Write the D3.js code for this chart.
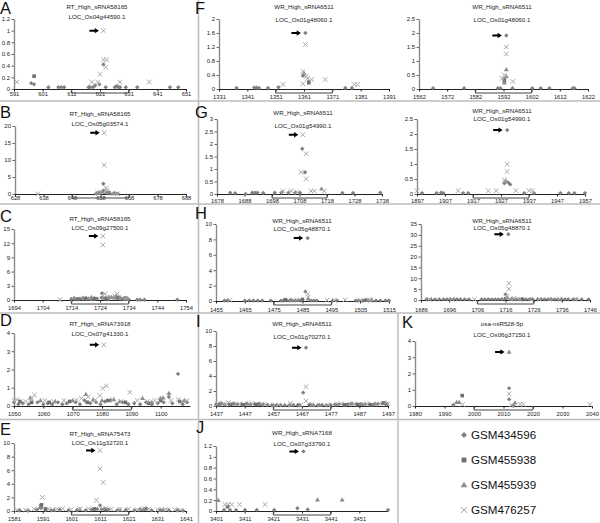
<!DOCTYPE html>
<html><head><meta charset="utf-8">
<script src="https://cdn.jsdelivr.net/npm/d3@7"></script>
<style>body{margin:0;background:#fff} svg{display:block;font-family:"Liberation Sans",Arial,sans-serif}</style>
</head><body><svg id="c" width="600" height="523"></svg>
<script>
// ---------- series names ----------
const seriesNames = ["GSM434596","GSM455938","GSM455939","GSM476257"];

// ---------- data: [position, value] per series (d=GSM434596, s=GSM455938, t=GSM455939, x=GSM476257) ----------
const A_d = [[597,0.1],[598,0.08],[603,0.03],[606.5,0.03],[607.5,0.03],[608.5,0.03],[617,0.03],[617.5,0.03],[618.5,0.03],[619.3,0.06],[620.8,0.08],[622.2,0.42],[623,0.03],[626.2,0.03],[626.8,0.05],[627.4,0.03],[628,0.03],[630,0.03],[634,0.03],[645.4,0.03],[648.3,0.03]];
const A_s = [[598,0.22]];
const A_t = [];
const A_x = [[592,0.12],[618.1,0.12],[620.2,0.12],[621,0.25],[622.2,1.0],[622.2,0.5],[623.3,0.5],[623,0.37],[628,0.12],[638.2,0.12]];

const B_d = [[656.5,0.1],[658,0.3],[659,3.0],[659,1.0],[660.5,0.2],[662.5,0.1],[664,0.1]];
const B_s = [[657.5,0.3],[661,0.4]];
const B_t = [[658.5,0.6],[660,0.5],[663,0.2]];
const B_x = [[636,0.05],[659.3,18],[659.3,8.5],[660,1.7],[660.3,1.0],[657,0.4],[658,0.6],[662,0.2],[664,0.1]];

const C_d = [[1714,0.2],[1715,0.3],[1716,0.1],[1717,0.3],[1718,0.2],[1719,0.4],[1720,0.3],[1721,0.2],[1722,0.4],[1723,0.3],[1724.7,1.4],[1724.5,0.5],[1725.5,0.3],[1726,0.4],[1727,0.2],[1728,0.6],[1729.5,0.8],[1730,0.4],[1731,0.2],[1732,0.3],[1733,0.2],[1734,0.1],[1737,0.05],[1738,0.05],[1739.5,0.05],[1751,0.05]];
const C_s = [[1716,0.2],[1719,0.3],[1722,0.2],[1726,0.3],[1730,0.5],[1733,0.4]];
const C_t = [[1715,0.4],[1718,0.5],[1721,0.6],[1725,0.5],[1727,0.6],[1729,0.5],[1731,0.6],[1733,0.3]];
const C_x = [[1710,0.05],[1725,13.5],[1725,11.6],[1725.8,1.3],[1729.2,0.9],[1730,1.3],[1728,0.5],[1720,0.3],[1733,0.3]];

const D_d = [[1050,0.2],[1051.5,0.1],[1053,0.15],[1055,0.1],[1058,0.2],[1060,0.1],[1061.5,0.15],[1063,0.1],[1065,0.2],[1066.5,0.1],[1068,0.15],[1071,0.2],[1072.5,0.1],[1074,0.3],[1076,0.15],[1078,0.2],[1079.5,0.1],[1081,0.25],[1083,0.3],[1085,0.1],[1087,0.2],[1089,0.1],[1091,0.15],[1093,0.1],[1095,0.2],[1097,0.1],[1099,0.15],[1101,0.2],[1102.8,0.5],[1104,0.15],[1105.9,1.76],[1107.5,0.1],[1109,0.2]];
const D_s = [[1052,0.25],[1056,0.2],[1062,0.2],[1069,0.25],[1075,0.2],[1082,0.3],[1088,0.2],[1096,0.15],[1100,0.3],[1106.5,0.25]];
const D_t = [[1055.6,0.45],[1059,0.3],[1064,0.25],[1070,0.3],[1074.5,0.64],[1077,0.35],[1080,0.3],[1084,0.35],[1086,0.25],[1093.8,0.42],[1097,0.2],[1099.9,0.42],[1100.8,0.45],[1102.8,0.7],[1108,0.3]];
const D_x = [[1050,0.3],[1051,0.35],[1054,0.25],[1056,0.42],[1057,0.6],[1060.5,0.3],[1063.5,0.25],[1067,0.3],[1071.3,0.33],[1073,0.42],[1075.3,0.5],[1077.5,0.3],[1079.3,0.57],[1080.2,0.97],[1080.6,3.35],[1081.5,1.1],[1083.5,0.35],[1086.5,0.25],[1089.5,0.75],[1092,0.3],[1095.5,0.25],[1098,0.3],[1103.5,0.3],[1106,0.35],[1109,0.3]];

const E_d = [[1583,0.1],[1586,0.05],[1589,0.2],[1590.5,0.45],[1592,0.15],[1594,0.1],[1597,0.2],[1600,0.1],[1603,0.15],[1606,0.1],[1608,0.2],[1610,0.3],[1611,0.83],[1612.5,0.3],[1614,0.2],[1617,0.1],[1620,0.15],[1623,0.1],[1626,0.2],[1629,0.1],[1632,0.15],[1635,0.1],[1638,0.1],[1640,0.05]];
const E_s = [[1590.3,0.7],[1590.6,0.9],[1592,0.3],[1609,0.3],[1613,0.2],[1627,0.3]];
const E_t = [[1590,0.5],[1595,0.2],[1604,0.25],[1611.5,0.3],[1618,0.2],[1625,0.3],[1633,0.2]];
const E_x = [[1582,0.1],[1585,0.15],[1588,0.3],[1590.9,2.0],[1593,0.3],[1596,0.25],[1598,0.35],[1601,0.2],[1604,0.3],[1607,0.35],[1609.8,1.57],[1611,8.9],[1611,6.2],[1612.1,4.2],[1613,0.4],[1615,0.3],[1618,0.25],[1621,0.3],[1624,0.2],[1626.5,0.4],[1628,0.3],[1631,0.2],[1634,0.25],[1637,0.2],[1639,0.15]];

const F_d = [[1337.2,0.03],[1343.4,0.04],[1344.2,0.04],[1345.1,0.03],[1348.3,0.03],[1352,0.05],[1360.6,0.38],[1361.5,1.6],[1362.7,0.22],[1375.6,0.03],[1377.9,0.03]];
const F_s = [[1362.7,0.18]];
const F_t = [[1361,0.45]];
const F_x = [[1353.6,0.13],[1360.6,0.5],[1360.6,0.15],[1361.5,1.27],[1361.8,0.36],[1362.2,0.3],[1363.7,0.27],[1368.5,0.27],[1378.7,0.13],[1379.9,0.13]];

const F2_d = [[1567,0.03],[1578,0.03],[1590,0.03],[1590.9,0.03],[1592.3,0.35],[1593,1.91],[1595.2,0.03],[1602.2,0.03],[1605.2,0.03],[1608.3,0.03],[1616.6,0.03],[1617.2,0.03]];
const F2_s = [[1592.3,0.28]];
const F2_t = [[1593,0.7],[1593,0.45],[1592.3,0.22]];
const F2_x = [[1591.5,0.38],[1592.3,0.5],[1593,1.5],[1593,1.25],[1595.3,0.27]];

const G_d = [[1682.8,0.05],[1684.6,0.03],[1688.4,0.0],[1690.8,0.05],[1691.8,0.05],[1692.7,0.05],[1694.8,0.04],[1699,0.05],[1701.4,0.05],[1704,0.05],[1706.4,0.05],[1708.2,0.05],[1709,1.81],[1710,0.87],[1723.6,0.04],[1727.5,0.04],[1737.4,0.05]];
const G_s = [];
const G_t = [[1716,0.21]];
const G_x = [[1702,0.12],[1705,0.12],[1707,0.08],[1708.6,0.87],[1709.2,2.37],[1710.4,1.61],[1710.4,0.61],[1712.2,0.12],[1713.4,0.12],[1717,0.12]];

const G2_d = [[1898.8,0.03],[1904,0.03],[1905.6,0.04],[1906.4,0.03],[1913.5,0.03],[1915.3,0.03],[1928.2,0.36],[1929.2,2.13],[1929.6,0.38],[1930.3,0.32],[1935.3,0.03],[1938.8,0.03],[1948.2,0.03],[1951.2,0.03],[1953.2,0.03],[1957,0.03]];
const G2_s = [];
const G2_t = [[1928.8,0.43]];
const G2_x = [[1897,0.11],[1911.7,0.11],[1922.5,0.11],[1925.3,0.11],[1928.2,0.47],[1929.2,0.99],[1929.2,0.75],[1932.3,0.11],[1937,0.11],[1938.2,0.11]];

const H_d = [[1457.9,0.05],[1459,0.05],[1465,0.05],[1466.5,0.05],[1468,0.05],[1469.5,0.05],[1471,0.05],[1474,0.05],[1477.5,0.05],[1478.5,0.05],[1479.5,0.1],[1480.5,0.05],[1481.5,0.05],[1482.5,0.05],[1483.5,0.1],[1484.5,0.05],[1486,1.22],[1486.8,8.17],[1488,0.05],[1489,0.05],[1490,0.05],[1495.5,0.05],[1497,0.05],[1503.5,0.05],[1504.5,0.05],[1506,0.05],[1508,0.05],[1510.5,0.05],[1512,0.05],[1513.8,0.05],[1515,0.05]];
const H_s = [[1479,0.15],[1485,0.2],[1507,0.1]];
const H_t = [[1487,0.3],[1481,0.15],[1509,0.15]];
const H_x = [[1459.8,0.1],[1483,0.15],[1486.8,0.9],[1487,0.5],[1493.5,0.1],[1496,0.1],[1499.8,0.15],[1505,0.1],[1507.8,0.15],[1508.6,0.1]];

const H2_d = [[1688,0.3],[1689.5,0.3],[1691,0.3],[1692.5,0.3],[1694,0.3],[1695.2,0.3],[1696.4,0.3],[1697.6,0.3],[1698.8,0.3],[1700,0.3],[1701.5,0.3],[1703,0.3],[1707.5,0.3],[1708.7,0.3],[1709.9,0.3],[1711.1,0.3],[1712.3,0.3],[1713.5,0.3],[1714.7,0.4],[1716,2.6],[1717,30.3],[1718.5,0.3],[1719.7,0.3],[1720.9,0.3],[1722.1,0.3],[1723.3,0.3],[1724.5,0.3],[1725.7,0.3],[1727.5,0.3],[1728.7,0.3],[1729.9,0.3],[1731.1,0.3],[1732.3,0.3],[1733.5,0.3],[1734.7,0.3],[1735.9,0.3],[1737.1,0.3],[1738.3,0.3],[1740,0.3],[1741.2,0.3],[1743,0.3],[1745.5,0.3]];
const H2_s = [[1716,0.6],[1722,0.3]];
const H2_t = [[1716.8,1.0],[1718,0.5],[1725,0.4],[1732,0.3]];
const H2_x = [[1689,0.3],[1697,0.4],[1705,0.3],[1716.5,1.5],[1717.2,7.7],[1717.2,5.1],[1719,0.8],[1721,0.4],[1728,0.3],[1735,0.3],[1741,0.3]];

const I_d = [[1437,0.2],[1438.5,0.3],[1440,0.2],[1441.5,0.25],[1443,0.3],[1444.5,0.2],[1446,0.25],[1447.5,0.3],[1449,0.2],[1450.5,0.25],[1452,0.3],[1453.5,0.2],[1455,0.15],[1456.5,0.1],[1458,0.1],[1459.5,0.15],[1461,0.1],[1462.5,0.1],[1464,0.15],[1465.5,0.1],[1467.4,1.78],[1468.4,7.78],[1469.5,0.15],[1471,0.1],[1472.5,0.1],[1474,0.15],[1475.5,0.1],[1477,0.15],[1478.5,0.2],[1480,0.25],[1481.5,0.2],[1483,0.25],[1484.5,0.3],[1486,0.2],[1487.5,0.25],[1489,0.2],[1490.5,0.25],[1492,0.2],[1493.5,0.3],[1495,0.35],[1496.5,0.3]];
const I_s = [[1438,0.15],[1442,0.2],[1446.5,0.15],[1451,0.2],[1466,0.1],[1470,0.1],[1482,0.15],[1486.5,0.2],[1491,0.15],[1495.5,0.4],[1496.5,0.2]];
const I_t = [[1439,0.35],[1443.5,0.3],[1448,0.3],[1452.5,0.25],[1457,0.1],[1463,0.15],[1473,0.15],[1479,0.2],[1484,0.3],[1488,0.25],[1492.5,0.3],[1496,0.45]];
const I_x = [[1437.5,0.3],[1440,0.25],[1441.3,0.45],[1445,0.3],[1449.5,0.35],[1454,0.25],[1459,0.15],[1463,0.35],[1466.5,0.15],[1468.4,2.58],[1468.4,0.67],[1470.5,0.2],[1476,0.15],[1480.5,0.3],[1485,0.25],[1489.5,0.3],[1494,0.25],[1497,0.3]];

const J_d = [[3403.8,0.02],[3405.9,0.02],[3408,0.02],[3411.1,0.02],[3415.2,0.02],[3421.3,0.02],[3429.4,0.05],[3431.5,1.1],[3433,0.03],[3461,0.02]];
const J_s = [[3405,0.08]];
const J_t = [[3401.8,0.2],[3436.4,0.21],[3445,0.21]];
const J_x = [[3404.1,0.12],[3405.3,0.12],[3406.5,0.12],[3409.2,0.12],[3418.1,0.12]];

const K_d = [[1993,0.06],[2011.9,1.1],[2011.9,0.41],[2013.3,0.02]];
const K_s = [[1996,0.64]];
const K_t = [[1994.1,0.23],[1995,0.23],[2011.9,3.33],[2013.9,0.2]];
const K_x = [[1996.1,0.1],[2011.9,0.75],[2012.7,0.06],[2015.6,0.1],[2016.7,0.1],[2039.3,0.1]];

// ---------- panel texts, domains, tick labels ----------
const panels = [
 {id:"A", letter:"A", t1:"RT_High_sRNA58165", t2:"LOC_Os04g44590.1", xd:[591,651], xt:[591,601,611,621,631,641,651], yt:[0,0.2,0.4,0.6,0.8,1,1.2], br:[611,631], data:[A_d,A_s,A_t,A_x]},
 {id:"B", letter:"B", t1:"RT_High_sRNA58165", t2:"LOC_Os05g03574.1", xd:[628,688], xt:[628,638,648,658,668,678,688], yt:[0,5,10,15,20], br:[648,668], data:[B_d,B_s,B_t,B_x]},
 {id:"C", letter:"C", t1:"RT_High_sRNA58165", t2:"LOC_Os09g27500.1", xd:[1694,1754], xt:[1694,1704,1714,1724,1734,1744,1754], yt:[0,3,6,9,12,15], br:[1714,1734], data:[C_d,C_s,C_t,C_x]},
 {id:"D", letter:"D", t1:"RT_High_sRNA73918", t2:"LOC_Os07g41330.1", xd:[1050,1110], xt:[1050,1060,1070,1080,1090,1100], yt:[0,1,2,3,4], br:[1070,1090], data:[D_d,D_s,D_t,D_x]},
 {id:"E", letter:"E", t1:"RT_High_sRNA75473", t2:"LOC_Os11g32720.1", xd:[1581,1641], xt:[1581,1591,1601,1611,1621,1631,1641], yt:[0,2,4,6,8,10], br:[1601,1621], data:[E_d,E_s,E_t,E_x]},
 {id:"F", letter:"F", t1:"WR_High_sRNA6511", t2:"LOC_Os01g48060.1", xd:[1331,1391], xt:[1331,1341,1351,1361,1371,1381,1391], yt:[0,0.4,0.8,1.2,1.6,2], br:[1351,1371], data:[F_d,F_s,F_t,F_x]},
 {id:"F2", letter:"", t1:"WR_High_sRNA6511", t2:"LOC_Os01g48060.1", xd:[1562,1622], xt:[1562,1572,1582,1592,1602,1612,1622], yt:[0,0.5,1,1.5,2,2.5], br:[1582,1602], data:[F2_d,F2_s,F2_t,F2_x]},
 {id:"G", letter:"G", t1:"WR_High_sRNA6511", t2:"LOC_Os01g54990.1", xd:[1678,1738], xt:[1678,1688,1698,1708,1718,1728,1738], yt:[0,0.5,1,1.5,2,2.5,3], br:[1698,1718], data:[G_d,G_s,G_t,G_x]},
 {id:"G2", letter:"", t1:"WR_High_sRNA6511", t2:"LOC_Os01g54990.1", xd:[1897,1957], xt:[1897,1907,1917,1927,1937,1947,1957], yt:[0,0.5,1,1.5,2,2.5], br:[1917,1937], data:[G2_d,G2_s,G2_t,G2_x]},
 {id:"H", letter:"H", t1:"WR_High_sRNA6511", t2:"LOC_Os05g48870.1", xd:[1455,1515], xt:[1455,1465,1475,1485,1495,1505,1515], yt:[0,2,4,6,8,10], br:[1475,1495], data:[H_d,H_s,H_t,H_x]},
 {id:"H2", letter:"", t1:"WR_High_sRNA6511", t2:"LOC_Os05g48870.1", xd:[1686,1746], xt:[1686,1696,1706,1716,1726,1736,1746], yt:[0,5,10,15,20,25,30,35], br:[1706,1726], data:[H2_d,H2_s,H2_t,H2_x]},
 {id:"I", letter:"I", t1:"WR_High_sRNA6511", t2:"LOC_Os01g70270.1", xd:[1437,1497], xt:[1437,1447,1457,1467,1477,1487,1497], yt:[0,2,4,6,8,10], br:[1457,1477], data:[I_d,I_s,I_t,I_x]},
 {id:"J", letter:"J", t1:"WR_High_sRNA7168", t2:"LOC_Os07g33790.1", xd:[3401,3461], xt:[3401,3411,3421,3431,3441,3451], yt:[0,0.2,0.4,0.6,0.8,1,1.2], br:[3421,3441], data:[J_d,J_s,J_t,J_x]},
 {id:"K", letter:"K", t1:"osa-miR528-5p", t2:"LOC_Os06g37150.1", xd:[1980,2040], xt:[1980,1990,2000,2010,2020,2030,2040], yt:[0,1,2,3,4], br:[2000,2020], data:[K_d,K_s,K_t,K_x]}
];

// ---------- layout (pixels) ----------
const layout = {
 A:{L:14,R:186,T:19,B:89,tx:97,t1:7,t2:17,xl:94,lx:0,ly:14},
 B:{L:15,R:186,T:126,B:194,tx:100,t1:114,t2:124,xl:198,lx:0,ly:118},
 C:{L:14,R:186,T:229,B:300,tx:100,t1:219,t2:228,xl:308,lx:0,ly:222},
 D:{L:14,R:190,T:333,B:406,tx:100,t1:324,t2:334,xl:414,lx:0,ly:326},
 E:{L:14,R:186,T:443,B:511,tx:100,t1:434,t2:443,xl:519,lx:0,ly:435},
 F:{L:219,R:389,T:19,B:89,tx:304,t1:7,t2:20,xl:97,lx:195,ly:14},
 F2:{L:419,R:588,T:19,B:89,tx:502,t1:7,t2:20,xl:97},
 G:{L:217,R:382,T:119,B:194,tx:303,t1:113,t2:126,xl:201,lx:195,ly:118},
 G2:{L:417,R:585,T:119,B:194,tx:502,t1:111,t2:119,xl:201},
 H:{L:216,R:389,T:224,B:301,tx:302,t1:221,t2:229,xl:310,lx:195,ly:219},
 H2:{L:421,R:590,T:224,B:300,tx:502,t1:221,t2:228,xl:310},
 I:{L:216,R:388,T:331,B:406,tx:302,t1:324,t2:337,xl:414,lx:196,ly:327},
 J:{L:216,R:388,T:446,B:511,tx:302,t1:433,t2:444,xl:519,lx:196,ly:433},
 K:{L:415,R:592,T:341,B:406,tx:502,t1:324,t2:335,xl:414,lx:402,ly:328}
};

const svg = d3.select("#c");
const sepColor = "#bcbcbc";
[[198.5,0,198.5,523],[398,313,398,523],[0,101,600,101],[0,204,600,204],[0,313,600,313],[0,419.5,600,419.5]]
  .forEach(l => svg.append("line").attr("x1",l[0]).attr("y1",l[1]).attr("x2",l[2]).attr("y2",l[3])
  .attr("stroke",sepColor).attr("stroke-width",1.5));

const colors = ["#808080","#6e6e6e","#8c8c8c","#a8a8a8"];
function markerPath(type, cx, cy, k) {
  k = k || 1;
  if (type === 0) { const h = 2.2*k; return `M${cx},${cy-h}L${cx+h},${cy}L${cx},${cy+h}L${cx-h},${cy}Z`; }
  if (type === 1) { const h = 1.8*k; return `M${cx-h},${cy-h}H${cx+h}V${cy+h}H${cx-h}Z`; }
  if (type === 2) { const h = 2.5*k; return `M${cx},${cy-h}L${cx+h},${cy+h*0.7}L${cx-h},${cy+h*0.7}Z`; }
  const h = 2.3*k; return `M${cx-h},${cy-h}L${cx+h},${cy+h}M${cx-h},${cy+h}L${cx+h},${cy-h}`;
}
function drawMarker(g, type, cx, cy, k) {
  const p = g.append("path").attr("d", markerPath(type, cx, cy, k));
  if (type === 3) p.attr("fill","none").attr("stroke",colors[3]).attr("stroke-width",1);
  else p.attr("fill",colors[type]);
}

panels.forEach(p => {
  const L = layout[p.id];
  const g = svg.append("g");
  const x = d3.scaleLinear().domain(p.xd).range([L.L, L.R]);
  const yMax = p.yt[p.yt.length-1];
  const y = d3.scaleLinear().domain([0, yMax]).range([L.B, L.T]);

  // y axis
  const ya = g.append("g").attr("transform",`translate(${L.L},0)`)
    .call(d3.axisLeft(y).tickValues(p.yt).tickSize(2.5).tickSizeOuter(0).tickPadding(1.5)
      .tickFormat(d => String(+d.toFixed(2))));
  ya.select(".domain").attr("stroke","#8a8a8a").attr("stroke-width",1.4);
  ya.selectAll(".tick line").attr("stroke","#666");
  ya.selectAll("text").attr("font-size",6).attr("fill","#222").attr("font-family","Liberation Sans, Arial");

  // x axis
  const off = L.xl - L.B;
  const xa = g.append("g").attr("transform",`translate(0,${L.B})`)
    .call(d3.axisBottom(x).tickValues(p.xt).tickSize(2.5).tickSizeOuter(0).tickPadding(off - 2.1 - 2.5)
      .tickFormat(d3.format("d")));
  xa.select(".domain").attr("stroke","#222").attr("stroke-width",1);
  xa.selectAll(".tick line").attr("stroke","#222");
  xa.selectAll("text").attr("font-size",5.8).attr("fill","#222").attr("font-family","Liberation Sans, Arial");

  // gene bracket
  const bx1 = x(p.br[0]), bx2 = x(p.br[1]), by = L.B;
  g.append("path").attr("d",`M${bx1},${by}V${by+4}H${bx2}V${by}`)
    .attr("fill","none").attr("stroke","#444").attr("stroke-width",1);

  // series
  p.data.forEach((arr, si) => {
    arr.forEach(d => drawMarker(g, si, x(d[0]), y(d[1]), 1));
  });

  // arrow pointing at top value
  let best = null;
  p.data.forEach(arr => arr.forEach(d => { if (!best || d[1] > best[1]) best = d; }));
  const ax = x(best[0]) - 4.5, ay = y(best[1]);
  g.append("path").attr("d",`M${ax},${ay}L${ax-4.2},${ay-2.7}L${ax-4.2},${ay-1}L${ax-9.5},${ay-1}L${ax-9.5},${ay+1}L${ax-4.2},${ay+1}L${ax-4.2},${ay+2.7}Z`)
    .attr("fill","#000");

  // titles
  g.append("text").attr("x",L.tx).attr("y",L.t1+2.1).attr("text-anchor","middle")
    .attr("font-size",6.2).attr("fill","#222").text(p.t1);
  g.append("text").attr("x",L.tx).attr("y",L.t2+2.1).attr("text-anchor","middle")
    .attr("font-size",6.2).attr("fill","#222").text(p.t2);

  if (p.letter) {
    g.append("text").attr("x",L.lx).attr("y",L.ly).attr("font-size",16.5).attr("fill","#111").text(p.letter);
  }
});

// legend
const lg = svg.append("g");
seriesNames.forEach((name, i) => {
  const cy = 435 + i*25;
  drawMarker(lg, i, 464, cy, 1.35);
  lg.append("text").attr("x",471).attr("y",cy+4.2).attr("font-size",11.6).attr("fill","#111").text(name);
});
</script>
</body></html>
